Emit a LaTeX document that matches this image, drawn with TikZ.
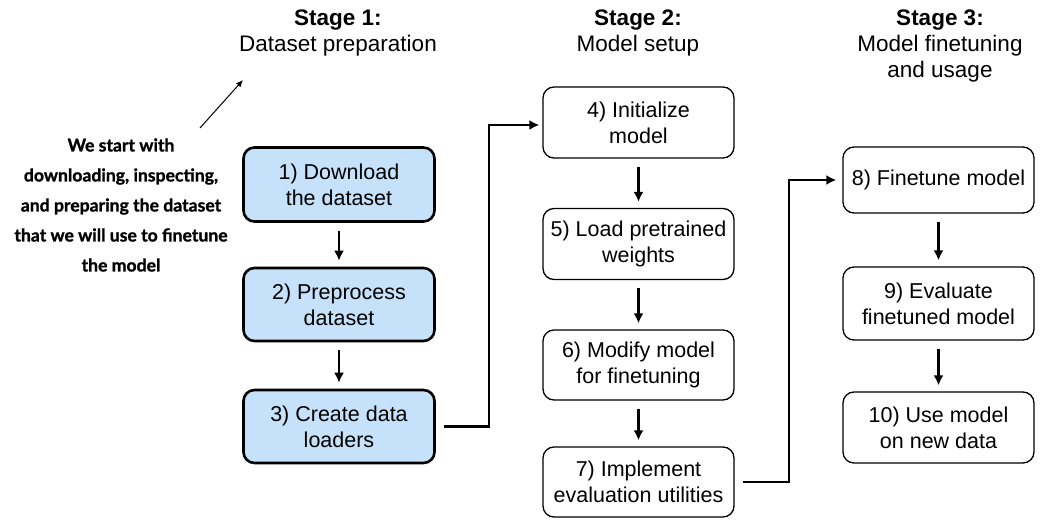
\documentclass[tikz,border=0pt]{standalone}
\usepackage{fontspec}
\setmainfont{Liberation Sans}
\newfontfamily\notefont{Lato}[BoldFeatures={FakeBold=1.2}]
\usetikzlibrary{arrows.meta}
\definecolor{stageblue}{RGB}{197,226,250}
\begin{document}
\begin{tikzpicture}[x=1pt,y=-1pt,
  box/.style={draw=black,rounded corners=11pt,minimum width=191pt,align=center,
    font=\fontsize{21.5}{26}\selectfont,inner sep=0pt},
  databox/.style={box,fill=stageblue,line width=2.6pt},
  modelbox/.style={box,fill=white,line width=1.3pt},
  flow/.style={line width=2.2pt,-{Latex[length=10pt,width=10pt]}},
  title/.style={align=center,font=\fontsize{22.5}{26}\selectfont},
  note/.style={align=center,font=\notefont\bfseries\fontsize{17.6}{30}\selectfont}]
\useasboundingbox (0,0) rectangle (1042,521);

% stage headings
\node[title] (h1) at (338,33) {\textbf{Stage 1:}\\Dataset preparation};
\node[title] (h2) at (638,33) {\textbf{Stage 2:}\\Model setup};
\node[title] (h3) at (940,46) {\textbf{Stage 3:}\\Model finetuning\\and usage};

% stage 1: data
\node[databox,minimum height=74pt] (b1) at (339,184.5) {1) Download\\the dataset};
\node[databox,minimum height=73pt] (b2) at (339,304.5) {2) Preprocess\\dataset};
\node[databox,minimum height=73pt] (b3) at (339,426.5) {3) Create data\\loaders};

% stage 2: model
\node[modelbox,minimum height=71pt] (b4) at (638.5,122.5) {4) Initialize\\model};
\node[modelbox,minimum height=71pt] (b5) at (638.5,244) {5) Load pretrained\\weights};
\node[modelbox,minimum height=70pt] (b6) at (638.5,365) {6) Modify model\\for finetuning};
\node[modelbox,minimum height=70pt] (b7) at (638.5,482) {7) Implement\\evaluation utilities};

% stage 3: finetuning and usage
\node[modelbox,minimum height=66pt] (b8) at (938.5,180) {8) Finetune model};
\node[modelbox,minimum height=73pt] (b9) at (938.5,303.5) {9) Evaluate\\finetuned model};
\node[modelbox,minimum height=71pt] (b10) at (938.5,427.5) {10) Use model\\on new data};

% annotation
\node[note] (n) at (121,205) {We start with\\downloading, inspecting,\\and preparing the dataset\\that we will use to finetune\\the model};
\coordinate (nt) at (200,128);
\coordinate (na) at (243,80);
\draw[line width=1pt,-{Latex[length=7pt,width=6pt]}] (nt) -- (na);

% vertical steps
\foreach \a/\b in {b1/b2,b2/b3,b4/b5,b5/b6,b6/b7,b8/b9,b9/b10}
  \draw[flow,shorten <=8pt,shorten >=6pt] (\a.south) -- (\b.north);

% cross-stage links
\coordinate (k1) at (489,0);
\coordinate (k2) at (789,0);
\draw[flow,shorten <=8pt,shorten >=3pt] (b3.east) -- (b3.east -| k1) |- (b4.west |- 0,125);
\draw[flow,shorten <=8pt,shorten >=6pt] (b7.east) -- (b7.east -| k2) |- (b8.west);
\end{tikzpicture}
\end{document}
